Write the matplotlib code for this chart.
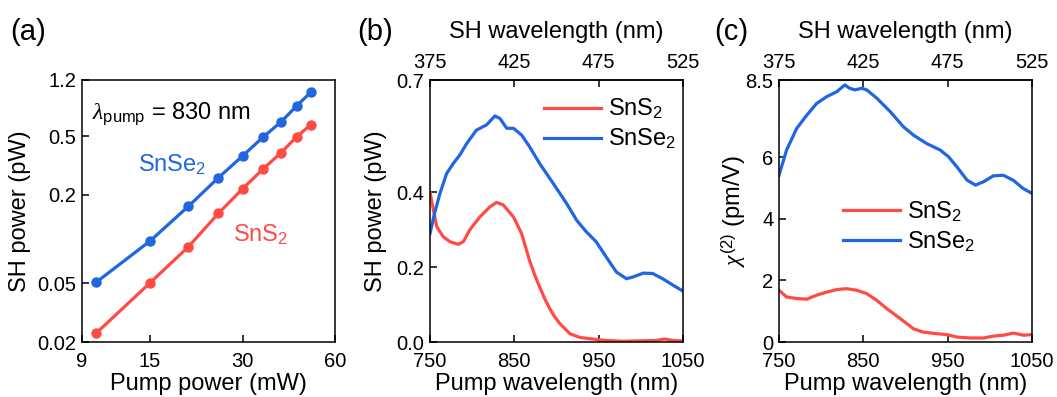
import numpy as np
import matplotlib
matplotlib.use("Agg")
import matplotlib.pyplot as plt
from matplotlib.ticker import FixedLocator, NullLocator, FixedFormatter

plt.rcParams['font.family'] = ['Liberation Sans', 'DejaVu Sans']
plt.rcParams['mathtext.fontset'] = 'custom'
plt.rcParams['mathtext.rm'] = 'Liberation Sans'
plt.rcParams['mathtext.it'] = 'Liberation Serif:italic'
plt.rcParams['axes.linewidth'] = 1.1

RED = '#ff4b44'
BLUE = '#1f66e0'

# (a) SH power vs pump power at 830 nm
pump_power = [10, 15, 20, 25, 30, 35, 40, 45, 50]
sh_snse2 = [0.0508, 0.097, 0.167, 0.26, 0.366, 0.492, 0.622, 0.80, 0.99]
sh_sns2 = [0.0229, 0.0505, 0.0887, 0.149, 0.219, 0.299, 0.385, 0.494, 0.596]

# (b) SH power spectra
wl_b_snse2 = [750, 755, 761.8, 769.7, 777.6, 785.5, 793.4, 805, 817, 827, 833, 841, 849,
              858.6, 868, 880, 896, 912, 924, 935.5, 947, 959, 971, 983, 991, 1003,
              1014, 1026, 1038, 1050]
pw_b_snse2 = [0.29, 0.34, 0.397, 0.45, 0.477, 0.50, 0.53, 0.566, 0.58, 0.604, 0.597, 0.571,
              0.571, 0.553, 0.522, 0.477, 0.424, 0.37, 0.325, 0.294, 0.268, 0.227, 0.187,
              0.169, 0.174, 0.184, 0.183, 0.169, 0.152, 0.136]
wl_b_sns2 = [750, 758, 765.8, 773.7, 783.6, 789.5, 797, 809, 821, 829, 837, 849, 858.6, 868,
             874, 880, 886, 892, 898, 904, 916, 928, 943, 959, 979, 998, 1018, 1028, 1038, 1050]
pw_b_sns2 = [0.399, 0.308, 0.281, 0.268, 0.261, 0.268, 0.299, 0.334, 0.361, 0.373, 0.366,
             0.334, 0.29, 0.218, 0.18, 0.147, 0.116, 0.089, 0.067, 0.049, 0.022, 0.012,
             0.008, 0.004, 0.002, 0.003, 0.004, 0.008, 0.004, 0.003]

# (c) chi(2) spectra
wl_c = [750, 759, 771, 783, 794.7, 806.6, 818.5, 828, 834, 840, 848, 854, 866, 882, 897.6,
        909.5, 925, 941, 951, 961, 973, 983, 992.6, 1004, 1016, 1027.7, 1039.5, 1050]
chi_snse2 = [5.41, 6.23, 6.93, 7.36, 7.74, 7.96, 8.12, 8.34, 8.23, 8.18, 8.23, 8.18, 7.91,
             7.47, 6.98, 6.71, 6.44, 6.23, 6.01, 5.68, 5.25, 5.09, 5.20, 5.39, 5.41, 5.25,
             4.98, 4.82]
wl_c_sns2 = [750, 759, 771, 783, 794.7, 806.6, 818.5, 830, 842, 854, 866, 878, 893.7, 909.5,
             921, 937, 949, 961, 976.8, 992.6, 1004, 1016, 1028, 1040, 1050]
chi_sns2 = [1.68, 1.46, 1.41, 1.39, 1.52, 1.62, 1.70, 1.73, 1.68, 1.57, 1.35, 1.08, 0.76,
            0.43, 0.32, 0.27, 0.24, 0.16, 0.13, 0.13, 0.19, 0.22, 0.29, 0.22, 0.24]

fig = plt.figure(figsize=(10.57, 3.97), dpi=100)
W, H = 1057, 397


def add_axes(left_px, right_px):
    return fig.add_axes([left_px / W, (H - 342) / H, (right_px - left_px) / W, 262 / H])


def style(ax):
    ax.tick_params(direction='in', length=5, width=1.1, labelsize=14.5, pad=4,
                   top=False, right=False)
    ax.tick_params(axis='x', pad=7)
    ax.tick_params(which='minor', length=0)


def labels(ax, ylabel, ylab_x):
    ax.text(0.5, -0.16, 'Pump wavelength (nm)' if ax is not ax1 else 'Pump power (mW)',
            transform=ax.transAxes, fontsize=17, ha='center', va='center')
    ax.yaxis.set_label_coords(ylab_x, 0.5)
    ax.set_ylabel(ylabel, fontsize=17, va='center')


LW = 2.3

# ---- (a)
ax1 = add_axes(82, 335)
ax1.set_xscale('log')
ax1.set_yscale('log')
ax1.plot(pump_power, sh_snse2, '-o', color=BLUE, lw=LW, ms=6.5)
ax1.plot(pump_power, sh_sns2, '-o', color=RED, lw=LW, ms=6.5)
ax1.set_xlim(9, 60)
ax1.set_ylim(0.02, 1.2)
ax1.xaxis.set_major_locator(FixedLocator([9, 15, 30, 60]))
ax1.xaxis.set_major_formatter(FixedFormatter(['9', '15', '30', '60']))
ax1.xaxis.set_minor_locator(NullLocator())
ax1.yaxis.set_major_locator(FixedLocator([0.02, 0.05, 0.2, 0.5, 1.2]))
ax1.yaxis.set_major_formatter(FixedFormatter(['0.02', '0.05', '0.2', '0.5', '1.2']))
ax1.yaxis.set_minor_locator(NullLocator())
style(ax1)
labels(ax1, 'SH power (pW)', -0.245)
ax1.text(0.04, 0.87, r'$\it{\lambda}_{\rm pump}$ = 830 nm', transform=ax1.transAxes,
         fontsize=17, va='center')
ax1.text(0.22, 0.675, r'SnSe$_2$', transform=ax1.transAxes, fontsize=17,
         color=BLUE, va='center')
ax1.text(0.595, 0.41, r'SnS$_2$', transform=ax1.transAxes, fontsize=17,
         color=RED, va='center')
fig.text(10 / W, 1 - 32 / H, '(a)', fontsize=21, va='center')


def add_top(ax):
    top = ax.secondary_xaxis('top', functions=(lambda x: x / 2, lambda x: x * 2))
    top.set_xticks([375, 425, 475, 525])
    top.tick_params(direction='in', length=5, width=1.1, labelsize=14.5, pad=6)
    ax.text(0.5, 1.185, 'SH wavelength (nm)', transform=ax.transAxes, fontsize=17,
            ha='center', va='center')
    return top


# ---- (b)
ax2 = add_axes(430, 683)
ax2.plot(wl_b_sns2, pw_b_sns2, color=RED, lw=LW, label=r'SnS$_2$')
ax2.plot(wl_b_snse2, pw_b_snse2, color=BLUE, lw=LW, label=r'SnSe$_2$')
ax2.set_xlim(750, 1050)
ax2.set_ylim(0, 0.7)
ax2.set_xticks([750, 850, 950, 1050])
ax2.set_yticks([0.0, 0.2, 0.4, 0.7])
ax2.set_yticklabels(['0.0', '0.2', '0.4', '0.7'])
style(ax2)
add_top(ax2)
labels(ax2, 'SH power (pW)', -0.215)
ax2.legend(loc='upper right', frameon=False, fontsize=17, handlelength=2.4,
           handletextpad=0.3, borderaxespad=0.2, labelspacing=0.25,
           bbox_to_anchor=(1.03, 0.99))
fig.text(357 / W, 1 - 32 / H, '(b)', fontsize=21, va='center')

# ---- (c)
ax3 = add_axes(779, 1032)
ax3.plot(wl_c_sns2, chi_sns2, color=RED, lw=LW, label=r'SnS$_2$')
ax3.plot(wl_c, chi_snse2, color=BLUE, lw=LW, label=r'SnSe$_2$')
ax3.set_xlim(750, 1050)
ax3.set_ylim(0, 8.5)
ax3.set_xticks([750, 850, 950, 1050])
ax3.set_yticks([0, 2, 4, 6, 8.5])
ax3.set_yticklabels(['0', '2', '4', '6', '8.5'])
style(ax3)
add_top(ax3)
labels(ax3, r'$\it{\chi}^{(2)}$ (pm/V)', -0.18)
ax3.legend(loc='center left', frameon=False, fontsize=17, handlelength=2.4,
           handletextpad=0.3, labelspacing=0.25, bbox_to_anchor=(0.17, 0.44))
fig.text(714 / W, 1 - 32 / H, '(c)', fontsize=21, va='center')

fig.savefig('out.png', dpi=100)
